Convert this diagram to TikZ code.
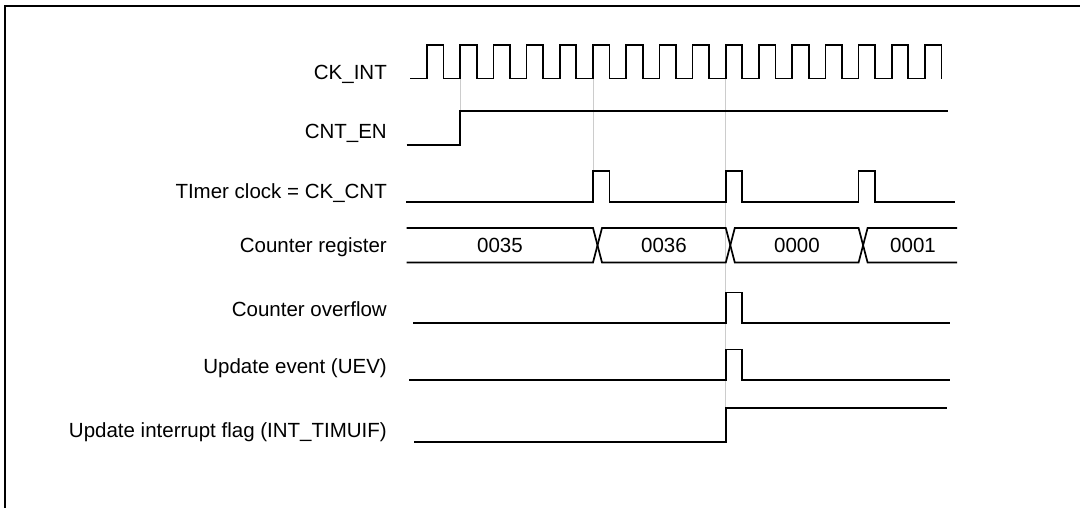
\documentclass[tikz,border=0pt]{standalone}
\usepackage{fontspec}
\setmainfont{Liberation Sans}
\begin{document}
\begin{tikzpicture}[x=1pt,y=-1pt,
  wave/.style={line width=1.7pt,line join=miter},
  guide/.style={gray!40,line width=0.8pt},
  lbl/.style={anchor=base east,inner sep=0pt,font=\fontsize{20.5}{24}\selectfont},
  val/.style={anchor=base,inner sep=0pt,font=\fontsize{20.5}{24}\selectfont},
  frameline/.style={line width=2pt}]
\useasboundingbox (0,0) rectangle (1080,507);
\def\rb{427}\def\pp{33.2}\def\hw{16.5}
% frame
\draw[frameline] (5.2,508) -- (5.2,5.5) -- (1081,5.5);
% guides
\draw[guide] (460.2,78.5) -- (460.2,111);
\draw[guide] (593,78.5) -- (593,171);
\draw[guide] (725.8,78.5) -- (725.8,443);
% labels
\node[lbl] (ckint) at (387,79) {CK\_INT};
\node[lbl] (cnten) at (387,138.5) {CNT\_EN};
\node[lbl] (timer) at (387,198) {TImer clock = CK\_CNT};
\node[lbl] (creg) at (387,252.5) {Counter register};
\node[lbl] (covf) at (387,316) {Counter overflow};
\node[lbl] (uev) at (387,373.5) {Update event (UEV)};
\node[lbl] (flag) at (387,437) {Update interrupt flag (INT\_TIMUIF)};
% CK_INT
\draw[wave] (410,78.5) foreach \k in {0,...,15}{ -- ({\rb+\pp*\k},78.5) -- ({\rb+\pp*\k},45) -- ({\rb+\hw+\pp*\k},45) -- ({\rb+\hw+\pp*\k},78.5)};
% CNT_EN
\draw[wave] (406.7,145) -- (460.2,145) -- (460.2,111) -- (947.7,111);
% Timer clock
\draw[wave] (406,202) -- (593,202) -- (593,171) -- (609.5,171) -- (609.5,202)
  -- (725.8,202) -- (725.8,171) -- (742.3,171) -- (742.3,202)
  -- (858.6,202) -- (858.6,171) -- (875.1,171) -- (875.1,202) -- (955,202);
% Counter register
\draw[wave] (406.7,228) -- (593,228) -- (602,262.5) -- (725.8,262.5) -- (734.8,228) -- (858.6,228) -- (867.6,262.5) -- (957,262.5);
\draw[wave] (406.7,262.5) -- (593,262.5) -- (602,228) -- (725.8,228) -- (734.8,262.5) -- (858.6,262.5) -- (867.6,228) -- (957,228);
\node[val] (v35) at (500,252.5) {0035};
\node[val] (v36) at (664,252.5) {0036};
\node[val] (v00) at (797,252.5) {0000};
\node[val] (v01) at (913,252.5) {0001};
% Counter overflow
\draw[wave] (413,323) -- (725.8,323) -- (725.8,292.5) -- (742.3,292.5) -- (742.3,323) -- (950,323);
% UEV
\draw[wave] (409,380) -- (725.8,380) -- (725.8,349.5) -- (742.3,349.5) -- (742.3,380) -- (950,380);
% Flag
\draw[wave] (414,442) -- (725.8,442) -- (725.8,408.3) -- (946.7,408.3);
\end{tikzpicture}
\end{document}
